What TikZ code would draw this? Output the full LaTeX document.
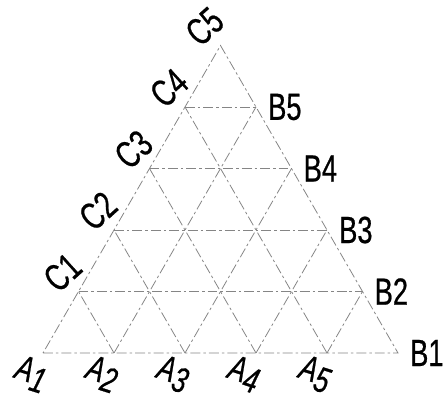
\documentclass[tikz,border=0pt]{standalone}
\usepackage{fontspec}
\setmainfont[FakeStretch=0.72,FakeBold=0.6]{Liberation Sans}
\usetikzlibrary{positioning}
\definecolor{meshgray}{HTML}{858585}
\tikzset{
  meshline/.style={meshgray,line width=0.8pt,dash pattern=on 10pt off 3pt on 2.5pt off 3pt},
  vlabel/.style={inner sep=0pt,font=\fontsize{38}{44}\selectfont},
  alabel/.style={inner sep=0pt,rotate=-18,font=\fontsize{36}{44}\selectfont\itshape},
  clabel/.style={vlabel,rotate=42},
}
\begin{document}
\begin{tikzpicture}[x=1bp,y=1bp]
\useasboundingbox (0,0) rectangle (446,399);
% corner and division points
\foreach \i in {1,...,5} {
  \coordinate (A\i) at ({43+71*(\i-1)},46);
  \coordinate (B\i) at ({398-35.5*(\i-1)},{46+61.5*(\i-1)});
  \coordinate (C\i) at ({43+35.5*\i},{46+61.5*\i});
}
% outline
\draw[meshline] (A1) -- (B1) -- (C5) -- cycle;
% horizontal lines
\foreach \i [evaluate=\i as \j using int(\i+1)] in {1,...,4}
  \draw[meshline] (C\i) -- (B\j);
% slanted lines
\foreach \i [evaluate=\i as \j using int(7-\i), evaluate=\i as \k using int(\i-1)] in {2,...,5} {
  \draw[meshline] (A\i) -- (B\j);
  \draw[meshline] (A\i) -- (C\k);
}
% labels
\foreach \i in {1,...,5} {
  \node[alabel] (lA\i) at ([shift={(-12,-21)}]A\i) {A\raisebox{-0.2em}{\i}};
  \node[vlabel,anchor=west,right=12bp of B\i] (lB\i) {B\i};
  \node[clabel] (lC\i) at ([shift={(-16,19)}]C\i) {C\i};
}
\end{tikzpicture}
\end{document}
